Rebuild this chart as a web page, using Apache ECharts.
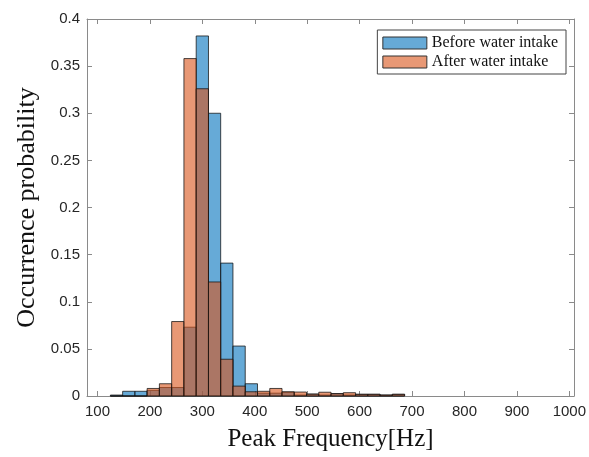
<!DOCTYPE html>
<html>
<head>
<meta charset="utf-8">
<script src="https://cdn.jsdelivr.net/npm/echarts@6/dist/echarts.min.js"></script>
<style>
  html, body { margin: 0; padding: 0; background: #fff; }
  #chart { width: 589px; height: 457px; }
</style>
</head>
<body>
<div id="chart"></div>
<script>
// Histogram bin edges (Hz), shared by both distributions
const binEdges = [124.6, 148.0, 171.4, 194.7, 218.1, 241.5, 264.9, 288.3, 311.7, 335.0,
                  358.4, 381.8, 405.2, 428.6, 452.0, 475.3, 498.7, 522.1, 545.5, 568.9,
                  592.3, 615.6, 639.0, 662.4, 685.8];

// Occurrence probability per bin
const beforeIntake = [0.001, 0.005, 0.005, 0.006, 0.009, 0.009, 0.073, 0.382, 0.300, 0.141,
                      0.053, 0.013, 0.003, 0.003, 0.004, 0.001, 0.002, 0.001, 0.0025, 0.001,
                      0.0018, 0.0018, 0.001, 0.0018];
const afterIntake  = [0, 0, 0, 0.008, 0.013, 0.079, 0.358, 0.326, 0.121, 0.039,
                      0.0105, 0.0045, 0.005, 0.008, 0.0045, 0.0042, 0.002, 0.004, 0.0025, 0.0035,
                      0.0018, 0.0018, 0.001, 0.0018];

const seriesNames = ['Before water intake', 'After water intake'];
const xTicks = [100, 200, 300, 400, 500, 600, 700, 800, 900, 1000];

const fills = ['rgba(0,114,189,0.6)', 'rgba(217,83,25,0.6)'];
const legendFills = ['rgb(102,170,215)', 'rgb(232,152,117)'];

function toBins(values) {
  return values.map((v, i) => [binEdges[i], binEdges[i + 1], v]);
}

function histSeries(name, values, fill) {
  return {
    name: name,
    type: 'custom',
    data: toBins(values),
    encode: { x: [0, 1], y: 2 },
    itemStyle: { color: fill },
    renderItem: function (params, api) {
      const p0 = api.coord([api.value(0), 0]);
      const p1 = api.coord([api.value(1), api.value(2)]);
      return {
        type: 'rect',
        shape: { x: p0[0], y: p1[1], width: p1[0] - p0[0], height: p0[1] - p1[1] },
        style: { fill: fill, stroke: 'rgba(20,20,20,0.85)', lineWidth: 0.9 }
      };
    }
  };
}

const axisGray = '#8a8a8a';
const tickFont = { fontFamily: 'Liberation Sans, Arial, sans-serif', fontSize: 15, color: '#262626' };

const chart = echarts.init(document.getElementById('chart'), null, { renderer: 'canvas' });
chart.setOption({
  animation: false,
  backgroundColor: '#fff',
  grid: { left: 87, right: 12, top: 19, bottom: 57, containLabel: false },
  legend: {
    orient: 'vertical',
    right: 23,
    top: 30,
    padding: [5, 8, 4, 5],
    itemGap: 3,
    itemWidth: 44,
    itemHeight: 12,
    borderColor: '#444',
    borderWidth: 1,
    backgroundColor: '#fff',
    textStyle: { fontFamily: 'Liberation Serif, Times New Roman, serif', fontSize: 16, color: '#111' },
    data: seriesNames.map((n, i) => ({
      name: n, icon: 'rect',
      itemStyle: { color: legendFills[i], borderColor: '#333', borderWidth: 1 }
    }))
  },
  xAxis: [{
    type: 'value', min: 80, max: 1009, position: 'bottom',
    name: 'Peak Frequency[Hz]', nameLocation: 'middle', nameGap: 31,
    nameTextStyle: { fontFamily: 'Liberation Serif, Times New Roman, serif', fontSize: 25, color: '#111' },
    axisLine: { onZero: false, lineStyle: { color: axisGray, width: 1 } },
    axisTick: { inside: true, length: 5, customValues: xTicks, lineStyle: { color: axisGray } },
    axisLabel: Object.assign({ customValues: xTicks, margin: 8, showMaxLabel: true, formatter: v => String(v) }, tickFont),
    splitLine: { show: false }
  }, {
    type: 'value', min: 80, max: 1009, position: 'top',
    axisLine: { onZero: false, lineStyle: { color: axisGray, width: 1 } },
    axisTick: { inside: true, length: 5, customValues: xTicks, lineStyle: { color: axisGray } },
    axisLabel: { show: false },
    splitLine: { show: false }
  }],
  yAxis: [{
    type: 'value', min: 0, max: 0.4, interval: 0.05, position: 'left',
    name: 'Occurrence probability', nameLocation: 'middle', nameGap: 45,
    nameTextStyle: { fontFamily: 'Liberation Serif, Times New Roman, serif', fontSize: 26, color: '#111' },
    axisLine: { show: true, lineStyle: { color: axisGray, width: 1 } },
    axisTick: { show: true, inside: true, length: 5, lineStyle: { color: axisGray } },
    axisLabel: Object.assign({ margin: 7, formatter: v => String(+v.toFixed(2)) }, tickFont),
    splitLine: { show: false }
  }, {
    type: 'value', min: 0, max: 0.4, interval: 0.05, position: 'right',
    axisLine: { show: true, lineStyle: { color: axisGray, width: 1 } },
    axisTick: { show: true, inside: true, length: 5, lineStyle: { color: axisGray } },
    axisLabel: { show: false },
    splitLine: { show: false }
  }],
  series: [
    histSeries(seriesNames[0], beforeIntake, fills[0]),
    histSeries(seriesNames[1], afterIntake, fills[1])
  ]
});
</script>
</body>
</html>
